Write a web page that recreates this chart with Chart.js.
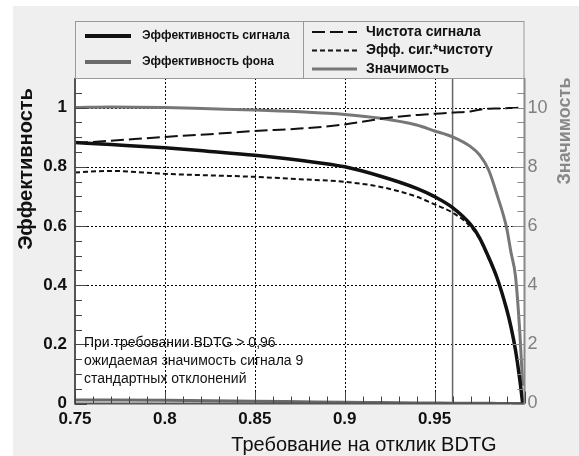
<!DOCTYPE html>
<html>
<head>
<meta charset="utf-8">
<script src="https://cdn.jsdelivr.net/npm/chart.js@4.4.0/dist/chart.umd.min.js"></script>
<style>
  html, body { margin: 0; padding: 0; background: #fff; }
  #wrap { position: absolute; left: 13px; top: 6px; width: 566px; height: 450px; background: #efefef; }
</style>
</head>
<body>
<div id="wrap"><canvas id="grafico" width="566" height="450"></canvas></div>
<script>
// ---- данные ----
const bdtCut = [0.75, 0.77, 0.80, 0.825, 0.85, 0.875, 0.90, 0.92, 0.94, 0.95, 0.96, 0.97, 0.975, 0.98, 0.985, 0.99, 0.9925, 0.995, 0.9975, 0.999];
const effSignal = [0.882, 0.875, 0.864, 0.852, 0.839, 0.822, 0.800, 0.768, 0.727, 0.699, 0.662, 0.605, 0.560, 0.495, 0.420, 0.320, 0.258, 0.180, 0.075, 0.0];
const effBackground = [0.012, 0.012, 0.011, 0.009, 0.008, 0.006, 0.004, 0.003, 0.002, 0.0015, 0.001, 0.001, 0.0008, 0.0005, 0.0004, 0.0003, 0.0002, 0.0001, 0.0, 0.0];
const purity = [0.880, 0.888, 0.901, 0.910, 0.921, 0.929, 0.943, 0.962, 0.975, 0.979, 0.983, 0.987, 0.993, 0.996, 0.997, 0.998, 0.999, 0.999, 1.0, 1.0];
const effTimesPurity = [0.781, 0.786, 0.776, 0.771, 0.766, 0.758, 0.749, 0.732, 0.699, 0.673, 0.645, 0.598, 0.556, 0.490, 0.418, 0.318, 0.257, 0.179, 0.074, 0.0];
const significance = [10.0, 10.02, 10.0, 9.96, 9.92, 9.86, 9.77, 9.64, 9.41, 9.21, 9.01, 8.68, 8.40, 7.90, 7.00, 5.95, 5.10, 4.30, 2.30, 0.6];

const xTickValues = [0.75, 0.8, 0.85, 0.9, 0.95];
const xTickLabels = ['0.75', '0.8', '0.85', '0.9', '0.95'];
const yTickValues = [0, 0.2, 0.4, 0.6, 0.8, 1];
const yTickLabels = ['0', '0.2', '0.4', '0.6', '0.8', '1'];
const y2TickValues = [0, 2, 4, 6, 8, 10];
const y2TickLabels = ['0', '2', '4', '6', '8', '10'];

const cutValue = 0.96;
const noteLines = ['При требовании BDTG > 0,96', 'ожидаемая значимость сигнала 9', 'стандартных отклонений'];

const FONT = '"Liberation Sans", Arial, sans-serif';

function pts(ys) {
  return bdtCut.map((x, i) => ({ x: x, y: ys[i] }));
}

const datasets = [
  { label: 'Эффективность сигнала', data: pts(effSignal), borderColor: '#111', borderWidth: 3.5, borderDash: [], yAxisID: 'y', col: 0, row: 0 },
  { label: 'Эффективность фона', data: pts(effBackground), borderColor: '#6a6a6a', borderWidth: 3, borderDash: [], yAxisID: 'y', col: 0, row: 1 },
  { label: 'Чистота сигнала', data: pts(purity), borderColor: '#111', borderWidth: 2, borderDash: [13, 5], yAxisID: 'y', col: 1, row: 0 },
  { label: 'Эфф. сиг.*чистоту', data: pts(effTimesPurity), borderColor: '#111', borderWidth: 2, borderDash: [5, 3], yAxisID: 'y', col: 1, row: 1 },
  { label: 'Значимость', data: pts(significance), borderColor: '#777', borderWidth: 3, borderDash: [], yAxisID: 'y2', col: 1, row: 2 }
];

// рамка, сетка, мелкие деления, подписи осей и легенда
const oformlenie = {
  id: 'oformlenie',
  beforeDraw(chart) {
    const { ctx, chartArea: a } = chart;
    ctx.save();
    ctx.fillStyle = '#fff';
    ctx.fillRect(a.left, a.top, a.right - a.left, a.bottom - a.top);
    ctx.restore();
  },
  beforeDatasetsDraw(chart) {
    const { ctx, chartArea: a } = chart;
    const sx = chart.scales.x, sy = chart.scales.y;
    ctx.save();
    // пунктирная сетка
    ctx.strokeStyle = '#000';
    ctx.lineWidth = 1;
    ctx.setLineDash([2, 2]);
    sx.ticks.forEach(t => {
      if (t.value <= sx.min) return;
      const x = Math.round(sx.getPixelForValue(t.value)) + 0.5;
      ctx.beginPath(); ctx.moveTo(x, a.top); ctx.lineTo(x, a.bottom); ctx.stroke();
    });
    sy.ticks.forEach(t => {
      if (t.value <= sy.min) return;
      const y = Math.round(sy.getPixelForValue(t.value)) + 0.5;
      ctx.beginPath(); ctx.moveTo(a.left, y); ctx.lineTo(a.right, y); ctx.stroke();
    });
    ctx.setLineDash([]);
    // линия отбора
    const xc = sx.getPixelForValue(cutValue);
    ctx.strokeStyle = '#666';
    ctx.lineWidth = 1.5;
    ctx.beginPath(); ctx.moveTo(xc, a.top); ctx.lineTo(xc, a.bottom); ctx.stroke();
    ctx.restore();
  },
  afterDatasetsDraw(chart) {
    const { ctx, chartArea: a } = chart;
    const sx = chart.scales.x, sy = chart.scales.y, sy2 = chart.scales.y2;
    ctx.save();

    // оси
    ctx.lineWidth = 2;
    ctx.strokeStyle = '#555';
    ctx.beginPath();
    ctx.moveTo(a.left, a.top); ctx.lineTo(a.left, a.bottom); ctx.lineTo(a.right, a.bottom);
    ctx.stroke();
    ctx.strokeStyle = '#888';
    ctx.beginPath();
    ctx.moveTo(a.right, a.top); ctx.lineTo(a.right, a.bottom);
    ctx.stroke();

    // деления
    ctx.lineWidth = 1;
    ctx.strokeStyle = '#444';
    for (let i = 0; i <= 22; i++) {
      const y = Math.round(sy.getPixelForValue(i * 0.05)) + 0.5;
      const len = i % 4 === 0 ? 12 : 7;
      ctx.beginPath(); ctx.moveTo(a.left, y); ctx.lineTo(a.left + len, y); ctx.stroke();
    }
    for (let i = 0; i <= 25; i++) {
      const x = Math.round(sx.getPixelForValue(0.75 + i * 0.01)) + 0.5;
      const len = i % 5 === 0 ? 12 : 7;
      ctx.beginPath(); ctx.moveTo(x, a.bottom); ctx.lineTo(x, a.bottom - len); ctx.stroke();
    }
    ctx.strokeStyle = '#888';
    for (let i = 0; i <= 22; i++) {
      const y = Math.round(sy2.getPixelForValue(i * 0.5)) + 0.5;
      const len = i % 4 === 0 ? 12 : 7;
      ctx.beginPath(); ctx.moveTo(a.right, y); ctx.lineTo(a.right - len, y); ctx.stroke();
    }

    // пояснение
    ctx.fillStyle = '#111';
    ctx.font = '14px ' + FONT;
    ctx.textBaseline = 'middle';
    ctx.textAlign = 'left';
    noteLines.forEach((t, i) => ctx.fillText(t, a.left + 9, a.bottom - 60 + i * 18));

    // подписи осей
    ctx.textAlign = 'center';
    ctx.fillStyle = '#111';
    ctx.font = 'bold 20px ' + FONT;
    ctx.save();
    ctx.translate(13, 163); ctx.rotate(-Math.PI / 2);
    ctx.fillText('Эффективность', 0, 0);
    ctx.restore();

    ctx.fillStyle = '#888';
    ctx.font = 'bold 18px ' + FONT;
    ctx.save();
    ctx.translate(552, 125); ctx.rotate(-Math.PI / 2);
    ctx.fillText('Значимость', 0, 0);
    ctx.restore();

    ctx.fillStyle = '#111';
    ctx.font = '20px ' + FONT;
    ctx.fillText('Требование на отклик BDTG', 351, 439);

    // легенда
    const top = 15, bottom = a.top, mid = 290;
    ctx.fillStyle = '#efefef';
    ctx.fillRect(a.left, top, a.right - a.left, bottom - top);
    ctx.strokeStyle = '#999';
    ctx.lineWidth = 1;
    ctx.strokeRect(a.left + 0.5, top + 0.5, a.right - a.left - 1, bottom - top);
    ctx.beginPath(); ctx.moveTo(mid + 0.5, top); ctx.lineTo(mid + 0.5, bottom); ctx.stroke();

    ctx.textAlign = 'left';
    chart.data.datasets.forEach(ds => {
      let x0, x1, tx, y;
      if (ds.col === 0) {
        x0 = 72; x1 = 118; tx = 129; y = 30 + ds.row * 26;
        ctx.font = 'bold 12px ' + FONT;
      } else {
        x0 = 299; x1 = 344; tx = 353; y = 26 + ds.row * 18.5;
        ctx.font = 'bold 14px ' + FONT;
      }
      ctx.strokeStyle = ds.borderColor;
      ctx.lineWidth = ds.col === 0 ? 4 : ds.borderWidth;
      ctx.setLineDash(ds.borderDash);
      ctx.beginPath(); ctx.moveTo(x0, y); ctx.lineTo(x1, y); ctx.stroke();
      ctx.setLineDash([]);
      ctx.fillStyle = '#111';
      ctx.fillText(ds.label, tx, y);
    });

    ctx.restore();
  }
};

new Chart(document.getElementById('grafico'), {
  type: 'line',
  data: { datasets: datasets },
  options: {
    responsive: false,
    animation: false,
    devicePixelRatio: 1,
    layout: { padding: { top: 72, left: 0, right: 0, bottom: 0 } },
    elements: {
      point: { radius: 0 },
      line: { cubicInterpolationMode: 'monotone', fill: false }
    },
    plugins: { legend: { display: false }, tooltip: { enabled: false } },
    scales: {
      x: {
        type: 'linear', min: 0.75, max: 1.0,
        afterBuildTicks: s => { s.ticks = xTickValues.map(v => ({ value: v })); },
        afterFit: s => { s.height = 52.5; },
        ticks: {
          padding: 6, color: '#111', font: { family: FONT, size: 17, weight: 'bold' },
          maxRotation: 0, autoSkip: false,
          callback: (v, i) => xTickLabels[i]
        },
        grid: { display: false, drawTicks: false },
        border: { display: false }
      },
      y: {
        type: 'linear', position: 'left', min: 0, max: 1.1,
        afterBuildTicks: s => { s.ticks = yTickValues.map(v => ({ value: v })); },
        afterFit: s => { s.width = 62; },
        ticks: {
          padding: 8, color: '#111', font: { family: FONT, size: 17, weight: 'bold' },
          autoSkip: false,
          callback: (v, i) => yTickLabels[i]
        },
        grid: { display: false, drawTicks: false },
        border: { display: false }
      },
      y2: {
        type: 'linear', position: 'right', min: 0, max: 11,
        afterBuildTicks: s => { s.ticks = y2TickValues.map(v => ({ value: v })); },
        afterFit: s => { s.width = 54.5; },
        ticks: {
          padding: 3, color: '#808080', font: { family: FONT, size: 18 },
          autoSkip: false,
          callback: (v, i) => y2TickLabels[i]
        },
        grid: { display: false, drawTicks: false },
        border: { display: false }
      }
    }
  },
  plugins: [oformlenie]
});
</script>
</body>
</html>
